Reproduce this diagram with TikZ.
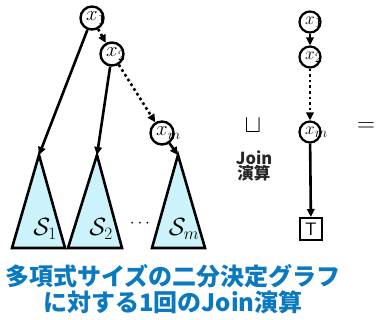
\documentclass[tikz,border=0pt]{standalone}
\usepackage{fontspec}
\newfontfamily\cjk{Noto Sans CJK JP}
\usetikzlibrary{arrows.meta}
\definecolor{trifill}{HTML}{CCF2FB}
\definecolor{capblue}{HTML}{0B79BF}
\definecolor{joingray}{HTML}{262626}
\begin{document}
\begin{tikzpicture}[x=1pt,y=-1pt,
  var/.style={circle,draw,line width=2.4pt,minimum size=23pt,inner sep=0pt,font=\fontsize{21}{23}\selectfont},
  svar/.style={circle,draw,line width=2.2pt,minimum size=21pt,inner sep=0pt,font=\fontsize{19}{21}\selectfont},
  arr/.style={line width=2.6pt,-{Triangle[length=8pt,width=7.5pt]}},
  dotarr/.style={arr,dash pattern=on 2.6pt off 3pt},
  tri/.style={draw,fill=trifill,line width=2.6pt,line join=miter},
  lbl/.style={font=\fontsize{26}{28}\selectfont},
]
\useasboundingbox (0,0) rectangle (376,320);

% left tree
\node[var] (a1) at (92,18) {$x$\rlap{$_1$}};
\node[var] (a2) at (112,54) {$x$\rlap{$_2$}};
\node[var] (am) at (162,133) {$x$\rlap{$_m$}};

\coordinate (t1) at (39,155);
\coordinate (t2) at (97,155);
\coordinate (t3) at (178,155);
\draw[tri] (t1) -- (65,248) -- (12,248) -- cycle;
\draw[tri] (t2) -- (122,248) -- (68,248) -- cycle;
\draw[tri] (t3) -- (205,248) -- (152,248) -- cycle;
\node[lbl] (s1) at (45,229) {$\mathcal{S}_1$};
\node[lbl] (s2) at (101,229) {$\mathcal{S}_2$};
\node[lbl] (sm) at (184,229) {$\mathcal{S}_m$};
\node[font=\fontsize{18}{20}\selectfont] (dots) at (140,224) {$\cdots$};

\draw[arr] (a1) -- (t1);
\draw[arr] (a2) -- (t2);
\draw[arr] (am) -- (t3);
\draw[dotarr] (a1) -- (a2);
\draw[dotarr] (a2) -- (am);

% join operator
\node[font=\fontsize{24}{26}\selectfont] (sq) at (253,126) {$\sqcup$};
\node[font=\cjk\bfseries\fontsize{16.5}{18}\selectfont,text=joingray,align=center] (jl) at (254,166) {Join\\[-3pt]演算};

% right chain
\node[svar] (b1) at (310,22) {$x$\rlap{$_1$}};
\node[svar] (b2) at (310,57) {$x$\rlap{$_2$}};
\node[svar] (bm) at (310,132) {$x$\rlap{$_m$}};
\node[draw,line width=2pt,minimum size=22pt,inner sep=0pt,font=\sffamily\fontsize{18}{20}\selectfont] (top) at (311,229) {T};
\draw[arr] (b1) -- (b2);
\draw[dotarr] (b2) -- (bm);
\draw[arr] (bm) -- (top);

\node[font=\fontsize{30}{32}\selectfont] (eq) at (366,127) {$=$};

% caption
\node[font=\cjk\bfseries\fontsize{24}{27}\selectfont,text=capblue,align=center] (cap) at (173,289) {多項式サイズの二分決定グラフ\\[-1pt]に対する1回のJoin演算};
\end{tikzpicture}
\end{document}
